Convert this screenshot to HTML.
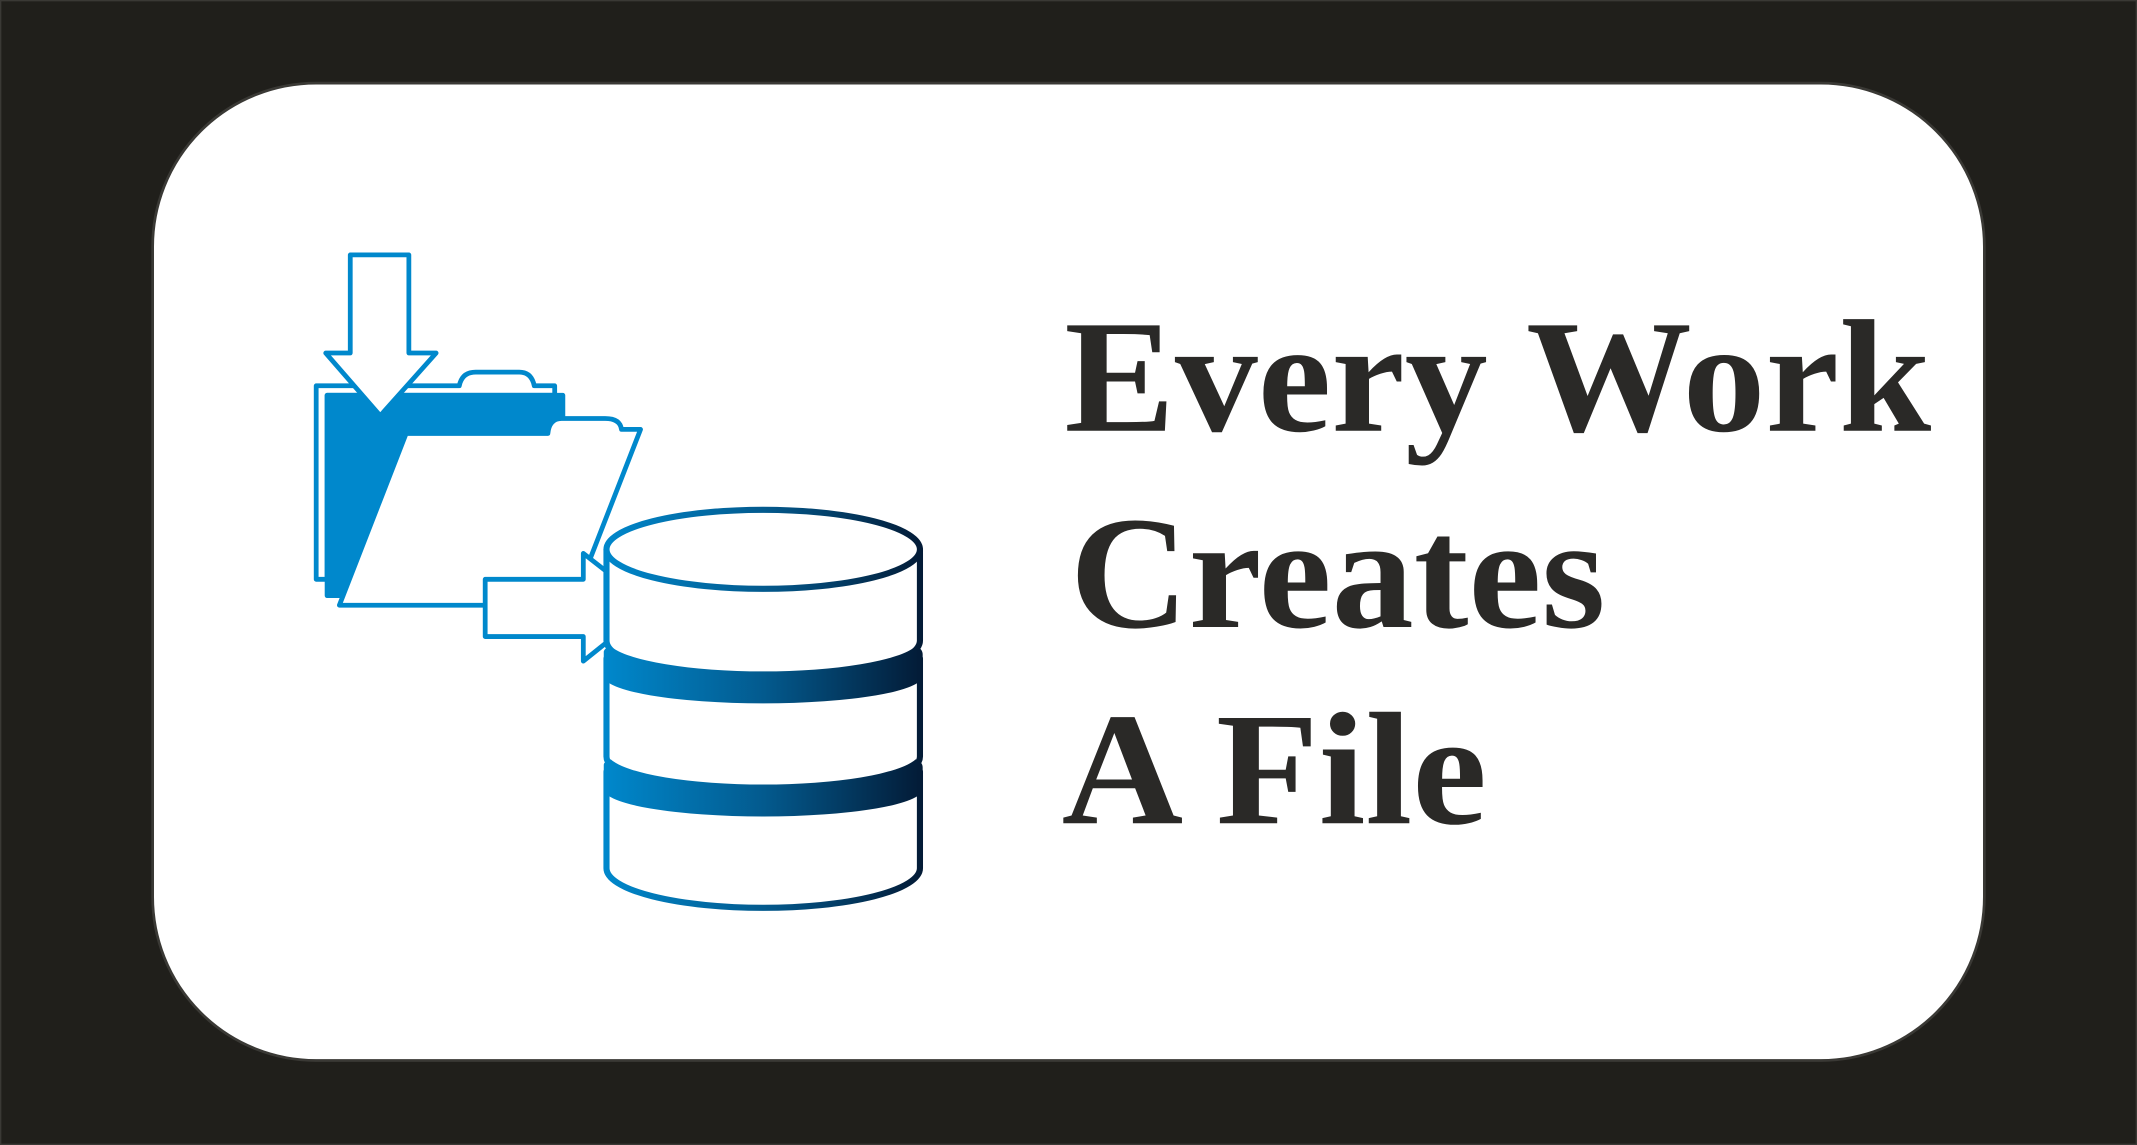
<!DOCTYPE html>
<html><head><meta charset="utf-8"><style>
html,body{margin:0;padding:0;background:#201f1b;}
svg{display:block;}
text{font-family:"Liberation Serif","DejaVu Serif",serif;font-weight:bold;}
</style></head><body>
<svg width="2137" height="1145" viewBox="0 0 1568 840" preserveAspectRatio="none" xmlns="http://www.w3.org/2000/svg">
<defs>
<linearGradient id="g" x1="443" y1="0" x2="678" y2="0" gradientUnits="userSpaceOnUse">
<stop offset="0" stop-color="#0088cc"/><stop offset="0.5" stop-color="#035a8e"/><stop offset="1" stop-color="#031a35"/>
</linearGradient>
</defs>
<rect x="0.5" y="0.5" width="1567" height="839" fill="#201f1b" stroke="#3a3935"/>
<rect x="112" y="61" width="1344" height="717" rx="120" ry="120" fill="#fff" stroke="#3a3935" stroke-width="2"/>
<g fill="#fff" stroke="#0088cc" stroke-width="3.5" stroke-linejoin="round">
<path d="M232 283 L337 283 Q339 273 349 273 L381 273 Q390 273 392 283 L407 283 L407 290 L240 290 L240 425 L232 425 Z"/>
<path d="M240 290 L413 290 L413 318 L298 318 L249 437 L240 437 Z" fill="#0088cc"/>
<path d="M249 444 L298 318 L402 318 Q403 307 412 307 L444 307 Q455 307 456 315 L470 315 L433 410 L433 444 Z"/>
<path d="M257 187 L300 187 L300 259 L320 259 L279 305 L239 259 L257 259 Z"/>
<path d="M356 425 L428 425 L428 406 L478 445 L428 485 L428 467 L356 467 Z"/>
</g>
<g fill="#fff" stroke="url(#g)" stroke-width="4.5" stroke-linejoin="round">
<path d="M445 566 L445 637 A115 29 0 0 0 675 637 L675 566 Z"/>
<path d="M445 483 L445 555 A115 29 0 0 0 675 555 L675 483 Z"/>
<path d="M445 403 L445 470 A115 29 0 0 0 675 470 L675 403 Z"/>
<ellipse cx="560" cy="403" rx="115" ry="29"/>
</g>
<g fill="url(#g)">
<path d="M443 478 Q443 476 448 474 A115 24 0 0 0 672 474 Q677 476 677 480 L677 496 A117 20 0 0 1 443 496 Z"/>
<path d="M443 561 Q443 559 448 557 A115 24 0 0 0 672 557 Q677 559 677 563 L677 579 A117 20 0 0 1 443 579 Z"/>
</g>
<g fill="#2a2927" font-size="118">
<text x="781" y="316" textLength="636" lengthAdjust="spacingAndGlyphs">Every Work</text>
<text x="785" y="460" textLength="393" lengthAdjust="spacingAndGlyphs">Creates</text>
<text x="779" y="604" textLength="312" lengthAdjust="spacingAndGlyphs">A File</text>
</g>
</svg>
</body></html>
